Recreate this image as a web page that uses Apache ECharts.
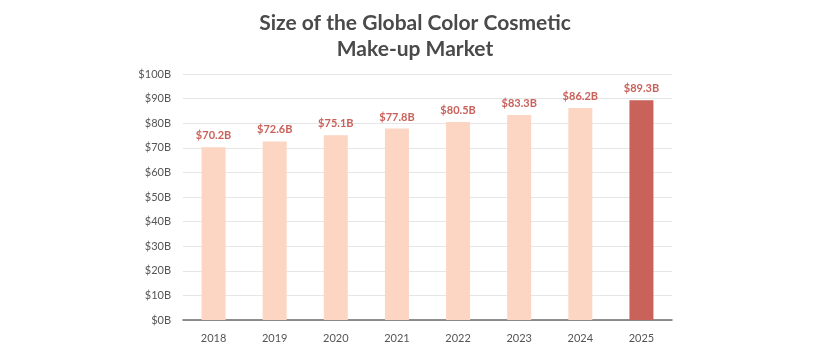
<!DOCTYPE html>
<html><head><meta charset="utf-8">
<script src="https://cdn.jsdelivr.net/npm/echarts@6/dist/echarts.min.js"></script>
<style>html,body{margin:0;padding:0;background:#fff}#c{width:825px;height:354px}</style>
</head><body><div id="c"></div>
<script>
var categories = ['2018','2019','2020','2021','2022','2023','2024','2025'];
var values = [70.2, 72.6, 75.1, 77.8, 80.5, 83.3, 86.2, 89.3];
var yTicks = [0,10,20,30,40,50,60,70,80,90,100];
var highlightIndex = 7;

var chart = echarts.init(document.getElementById('c'));
chart.setOption({
  animation: false,
  backgroundColor: '#fff',
  title: {
    text: 'Size of the Global Color Cosmetic\nMake-up Market',
    left: 410, top: 5, textAlign: 'center',
    textStyle: {fontFamily: 'Lato', fontWeight: 'bold', fontSize: 21, color: '#4a4a4a', lineHeight: 26}
  },
  grid: {left: 183, right: 153, top: 74, bottom: 34},
  xAxis: {
    type: 'category', data: categories,
    axisLine: {lineStyle: {color: '#6b6b6b', width: 1.5}},
    axisTick: {show: false},
    axisLabel: {color: '#555', fontFamily: 'Lato', fontSize: 11, margin: 13}
  },
  yAxis: {
    type: 'value', min: yTicks[0], max: yTicks[yTicks.length-1], interval: 10,
    axisLine: {show: false}, axisTick: {show: false},
    splitLine: {lineStyle: {color: '#e6e6e6'}},
    axisLabel: {color: '#555', fontFamily: 'Lato', fontSize: 11, margin: 12, formatter: function(v){return '$' + v + 'B';}}
  },
  series: [{
    type: 'bar', barWidth: 24,
    data: values.map(function(v, i){
      return {value: v, itemStyle: {color: i === highlightIndex ? '#c8625a' : '#fdd5c3'}};
    }),
    label: {show: true, position: 'top', distance: 6, color: '#c9615a', fontFamily: 'Lato', fontWeight: 'bold', fontSize: 11,
      formatter: function(p){return '$' + p.value.toFixed(1) + 'B';}}
  }]
});
</script></body></html>
